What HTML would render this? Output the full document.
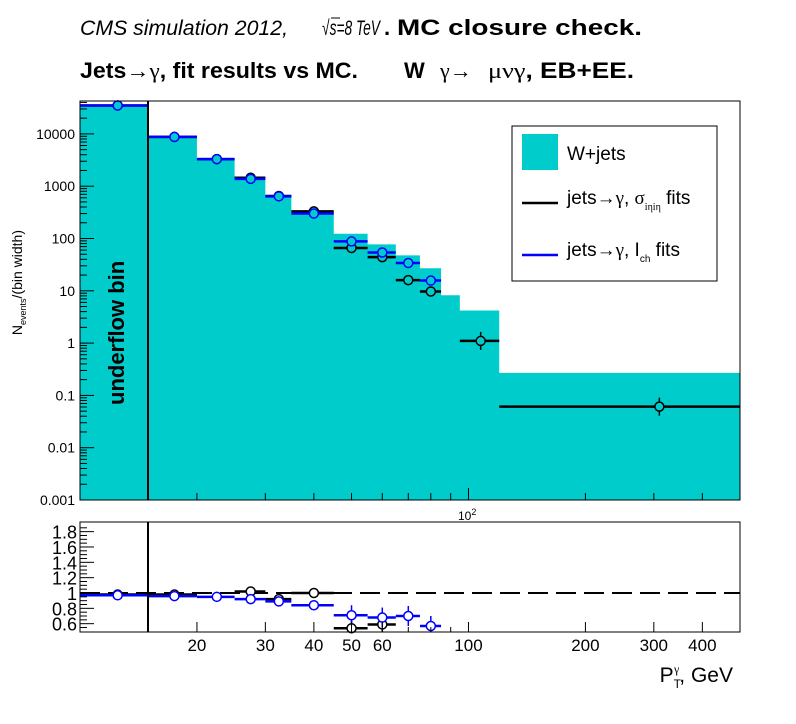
<!DOCTYPE html>
<html><head><meta charset="utf-8"><style>
body{margin:0;background:#fff;}
svg{display:block;font-family:"Liberation Sans",sans-serif;}
</style></head><body>
<svg id="c" width="796" height="724" viewBox="0 0 796 724">
<g font-size="21">
<text x="80" y="35" font-style="italic" textLength="208" lengthAdjust="spacingAndGlyphs">CMS simulation 2012,</text>
<text x="322" y="35" font-style="italic" textLength="58" lengthAdjust="spacingAndGlyphs">√s=8 TeV</text>
<line x1="331" x2="340" y1="18" y2="18" stroke="#000" stroke-width="1"/>
<text x="384" y="35" font-weight="bold" font-size="22">.</text>
<text x="397" y="35" font-weight="bold" font-size="22" textLength="245" lengthAdjust="spacingAndGlyphs">MC closure check.</text>
</g>
<g font-size="22" font-weight="bold">
<text x="80" y="78" textLength="278" lengthAdjust="spacingAndGlyphs">Jets<tspan font-weight="normal" font-family="Liberation Serif">→γ</tspan>, fit results vs MC.</text>
<text x="404" y="78">W</text>
<text x="440" y="78" font-weight="normal" font-family="Liberation Serif">γ→</text>
<text x="488" y="78" textLength="146" lengthAdjust="spacingAndGlyphs"><tspan font-weight="normal" font-family="Liberation Serif">μνγ</tspan>, EB+EE.</text>
</g>
<g id="topg"></g>
<g id="botg"></g>
</svg>
<script>
const edges=[10,15,20,25,30,35,45,55,65,75,85,95,120,500];
const mcValues=[35800,8750,3330,1510,660,314,123,77,47.5,27,8.2,4.2,0.27];
const sigmaFit=[35000,8750,3300,1450,650,330,66,44,16,9.7,null,1.1,0.061];
const ichFit=[35000,8750,3300,1380,640,300,88,54,34,15.7,null,null,null];
const ratioSigma=[0.98,0.98,null,1.02,0.92,1.0,0.54,0.59,null,null,null,null,null];
const ratioIch=[0.97,0.96,0.95,0.92,0.89,0.84,0.71,0.68,0.70,0.57,null,null,null];
const yTicks=[0.001,0.01,0.1,1,10,100,1000,10000];
const yTickLabels=["0.001","0.01","0.1","1","10","100","1000","10000"];
const rTicks=[0.6,0.8,1,1.2,1.4,1.6,1.8];
const rTickLabels=["0.6","0.8","1","1.2","1.4","1.6","1.8"];
const xTicks=[20,30,40,50,60,100,200,300,400];
const xTickLabels=["20","30","40","50","60","100","200","300","400"];

const NS="http://www.w3.org/2000/svg";
const L=80,R=740,T1=101,B1=500,T2=522,B2=632;
const X=v=>L+(Math.log10(v)-1)/Math.log10(50)*(R-L);
const Y=v=>500-(Math.log10(v)+3)*52.3;
const YR=v=>593-(v-1)*76.7;
function el(p,t,a){const e=document.createElementNS(NS,t);for(const k in a)e.setAttribute(k,a[k]);p.appendChild(e);return e;}
const topG=document.getElementById('topg'),botG=document.getElementById('botg');

let d='M'+X(edges[0])+','+B1;
for(let i=0;i<mcValues.length;i++){
  const y=Math.max(Y(mcValues[i]),T1);
  d+=' L'+X(edges[i])+','+y+' L'+X(edges[i+1])+','+y;
}
d+=' L'+X(edges[edges.length-1])+','+B1+' Z';
const hist=el(topG,'path',{d:d,fill:'#00cccc'});


const cen=i=>(edges[i]+edges[i+1])/2;
function pts(g,vals,col,yf){
  for(let i=0;i<vals.length;i++){
    if(vals[i]==null)continue;
    const y=yf(vals[i]);const xc=cen(i);
    const l=el(g,'line',{x1:X(edges[i]),x2:X(edges[i+1]),y1:y,y2:y,stroke:col,'stroke-width':2.5});
    
    
    el(g,'line',{x1:X(xc),x2:X(xc),y1:y-(i==11||i==12?9:5),y2:y+(i==11||i==12?9:5),stroke:col,'stroke-width':1.5});
    const c=el(g,'circle',{cx:X(xc),cy:y,r:4.5,fill:'#00cccc',stroke:col,'stroke-width':1.5});
    
    
  }
}
pts(topG,sigmaFit,'#000',Y);
pts(topG,ichFit,'#0000ff',Y);
el(topG,'line',{x1:148,x2:148,y1:T1,y2:B1,stroke:'#000','stroke-width':2});
el(topG,'rect',{x:L,y:T1,width:R-L,height:B1-T1,fill:'none',stroke:'#000','stroke-width':1});
for(let dd=-3;dd<5;dd++){for(let m=1;m<10;m++){const v=m*Math.pow(10,dd);const y=Y(v);if(y<T1)continue;
  el(topG,'line',{x1:L,x2:L+(m==1?14:7),y1:y,y2:y,stroke:'#000','stroke-width':1});}}
yTicks.forEach((v,i)=>{const t=el(topG,'text',{x:L-5,y:Y(v)+5,'font-size':14,'text-anchor':'end'});t.textContent=yTickLabels[i];
  });
[20,30,40,50,60,70,80,90,100,200,300,400].forEach(v=>el(topG,'line',{x1:X(v),x2:X(v),y1:B1,y2:B1-(v==100?12:7),stroke:'#000'}));
const e10=el(topG,'text',{x:458,y:520,'font-size':12});e10.innerHTML='10<tspan dy="-5" font-size="9">2</tspan>';

const yl=el(topG,'text',{transform:'translate(22,230) rotate(-90)','font-size':14,'text-anchor':'end'});
yl.innerHTML='N<tspan font-size="9" dy="4">events</tspan><tspan dy="-4">/(bin width)</tspan>';

const uf=el(topG,'text',{transform:'translate(124,405) rotate(-90)','font-size':22,'font-weight':'bold'});uf.textContent='underflow bin';

const lg=el(topG,'g',{});

el(lg,'rect',{x:512,y:126,width:205,height:155,fill:'#fff',stroke:'#000'});
el(lg,'rect',{x:522,y:134,width:36,height:36,fill:'#00cccc'});
let t=el(lg,'text',{x:567,y:160,'font-size':19});t.textContent='W+jets';
el(lg,'line',{x1:522,x2:558,y1:203,y2:203,stroke:'#000','stroke-width':2.5});
t=el(lg,'text',{x:567,y:204,'font-size':19});t.innerHTML='jets<tspan font-family="Liberation Serif">→γ</tspan>, <tspan font-family="Liberation Serif">σ</tspan><tspan font-size="10" dy="6" font-family="Liberation Serif">iηiη</tspan><tspan dy="-6"> fits</tspan>';
el(lg,'line',{x1:522,x2:558,y1:255,y2:255,stroke:'#0000ff','stroke-width':2.5});
t=el(lg,'text',{x:567,y:256,'font-size':19});t.innerHTML='jets<tspan font-family="Liberation Serif">→γ</tspan>, I<tspan font-size="10" dy="6">ch</tspan><tspan dy="-6"> fits</tspan>';

el(botG,'line',{x1:L,x2:R,y1:YR(1),y2:YR(1),stroke:'#000','stroke-width':2,'stroke-dasharray':'20,8'});
function rpts(vals,col){
  for(let i=0;i<vals.length;i++){
    if(vals[i]==null)continue;
    const y=YR(vals[i]);const xc=cen(i);
    el(botG,'line',{x1:X(edges[i]),x2:X(edges[i+1]),y1:y,y2:y,stroke:col,'stroke-width':2.5});
    const eh=i>=6?10:5;
    el(botG,'line',{x1:X(xc),x2:X(xc),y1:Math.max(y-eh,T2),y2:Math.min(y+eh,B2),stroke:col,'stroke-width':1.5});
    const c=el(botG,'circle',{cx:X(xc),cy:y,r:4.5,fill:'#fff',stroke:col,'stroke-width':1.5});
    
    
  }
}
rpts(ratioSigma,'#000');rpts(ratioIch,'#0000ff');
el(botG,'line',{x1:148,x2:148,y1:T2,y2:B2,stroke:'#000','stroke-width':2});
el(botG,'rect',{x:L,y:T2,width:R-L,height:B2-T2,fill:'none',stroke:'#000'});
for(let v=0.55;v<1.9;v+=0.05){const y=YR(v);const maj=Math.abs(v*5-Math.round(v*5))<0.01;
  el(botG,'line',{x1:L,x2:L+(maj?14:7),y1:y,y2:y,stroke:'#000'});}
rTicks.forEach((v,i)=>{const t=el(botG,'text',{x:L-3,y:YR(v)+7,'font-size':18,'text-anchor':'end'});t.textContent=rTickLabels[i];
  });
[20,30,40,50,60,70,80,90,100,200,300,400].forEach(v=>el(botG,'line',{x1:X(v),x2:X(v),y1:B2,y2:B2-(xTicks.includes(v)?10:5),stroke:'#000'}));
xTicks.forEach((v,i)=>{const t=el(botG,'text',{x:X(v),y:651,'font-size':17,'text-anchor':'middle'});t.textContent=xTickLabels[i];
  });
const xl=el(botG,'text',{x:733,y:682,'font-size':21,'text-anchor':'end'});
xl.innerHTML='P<tspan font-size="12" dy="6">T</tspan><tspan font-size="12" dy="-15" dx="-7" font-family="Liberation Serif">γ</tspan><tspan dy="9">, GeV</tspan>';

</script>
</body></html>
